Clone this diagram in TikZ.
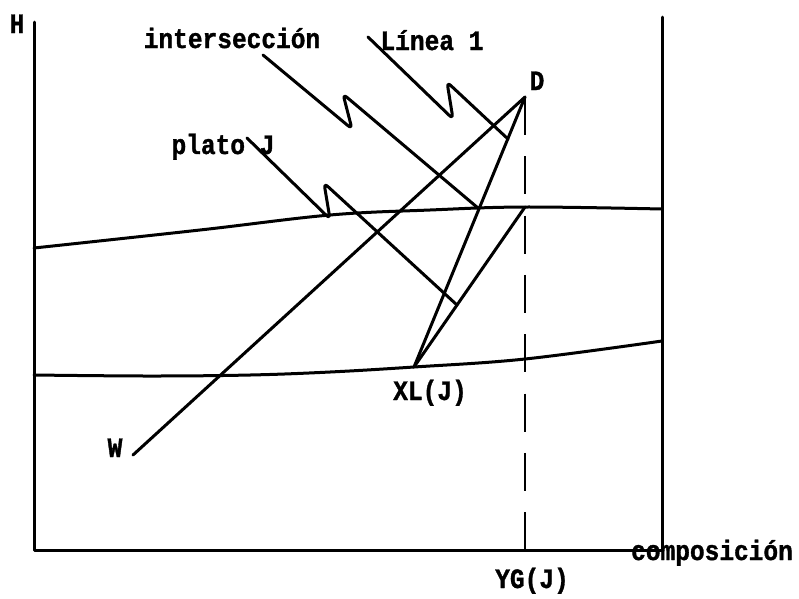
\documentclass[tikz,border=0pt]{standalone}
\usepackage{fontspec}
\newfontfamily\twfont{Liberation Mono}[FakeStretch=0.875, BoldFeatures={FakeBold=1.2}]
\begin{document}
\begin{tikzpicture}[x=1pt,y=-1pt,
  ln/.style={line width=3pt, line cap=round, line join=round},
  lead/.style={ln, rounded corners=5pt},
  dashline/.style={line width=2.6pt, dash pattern=on 38pt off 21.3pt},
  lbl/.style={font=\twfont\bfseries\fontsize{28}{28}\selectfont, inner sep=0pt, anchor=base}]
\useasboundingbox (0,0) rectangle (799,598);
% axes
\coordinate (Ltop) at (34,22);
\coordinate (O) at (34,550);
\coordinate (Rb) at (662,550);
\coordinate (Rtop) at (662,17);
\draw[ln] (Ltop) -- (O) -- (Rb) -- (Rtop);
% curves
\draw[ln] plot[smooth, tension=0.6] coordinates {(34,248) (200,230) (330,215) (430,210) (525,207) (662,209)};
\draw[ln] plot[smooth, tension=0.6] coordinates {(34,375) (150,376) (250,375) (330,372) (414,367) (525,359) (662,341)};
% points
\coordinate (D) at (525,97);
\coordinate (XL) at (414,367);
\coordinate (G) at (525,207);
\coordinate (W) at (133,455);
\coordinate (YG) at (525,550);
% dashed
\draw[dashline] (D) -- (YG);
% main lines
\draw[ln] (W) -- (D);
\draw[ln] (XL) -- (D);
\draw[ln] (XL) -- (G);
% leaders
\coordinate (i0) at (263,55);
\coordinate (i1) at (352,129);
\coordinate (i2) at (343,94);
\coordinate (i3) at (478,208);
\draw[lead] (i0) -- (i1) -- (i2) -- (i3);
\coordinate (l0) at (368,37);
\coordinate (l1) at (453,119);
\coordinate (l2) at (447,82);
\coordinate (l3) at (508,139);
\draw[lead] (l0) -- (l1) -- (l2) -- (l3);
\coordinate (p0) at (247,138);
\coordinate (p1) at (330,219);
\coordinate (p2) at (324,183);
\coordinate (p3) at (457,305);
\draw[lead] (p0) -- (p1) -- (p2) -- (p3);
% labels
\node[lbl] (tH) at (17,33) {H};
\node[lbl] (tint) at (232,48) {intersección};
\node[lbl] (tlin) at (432,50) {Línea 1};
\node[lbl] (tpla) at (223,154) {plato J};
\node[lbl] (tD) at (537,90) {D};
\node[lbl] (tW) at (115,457) {W};
\node[lbl] (tXL) at (430,400) {XL(J)};
\node[lbl] (tYG) at (532,588) {YG(J)};
\node[lbl] (tcomp) at (712,560) {composición};
\end{tikzpicture}
\end{document}
